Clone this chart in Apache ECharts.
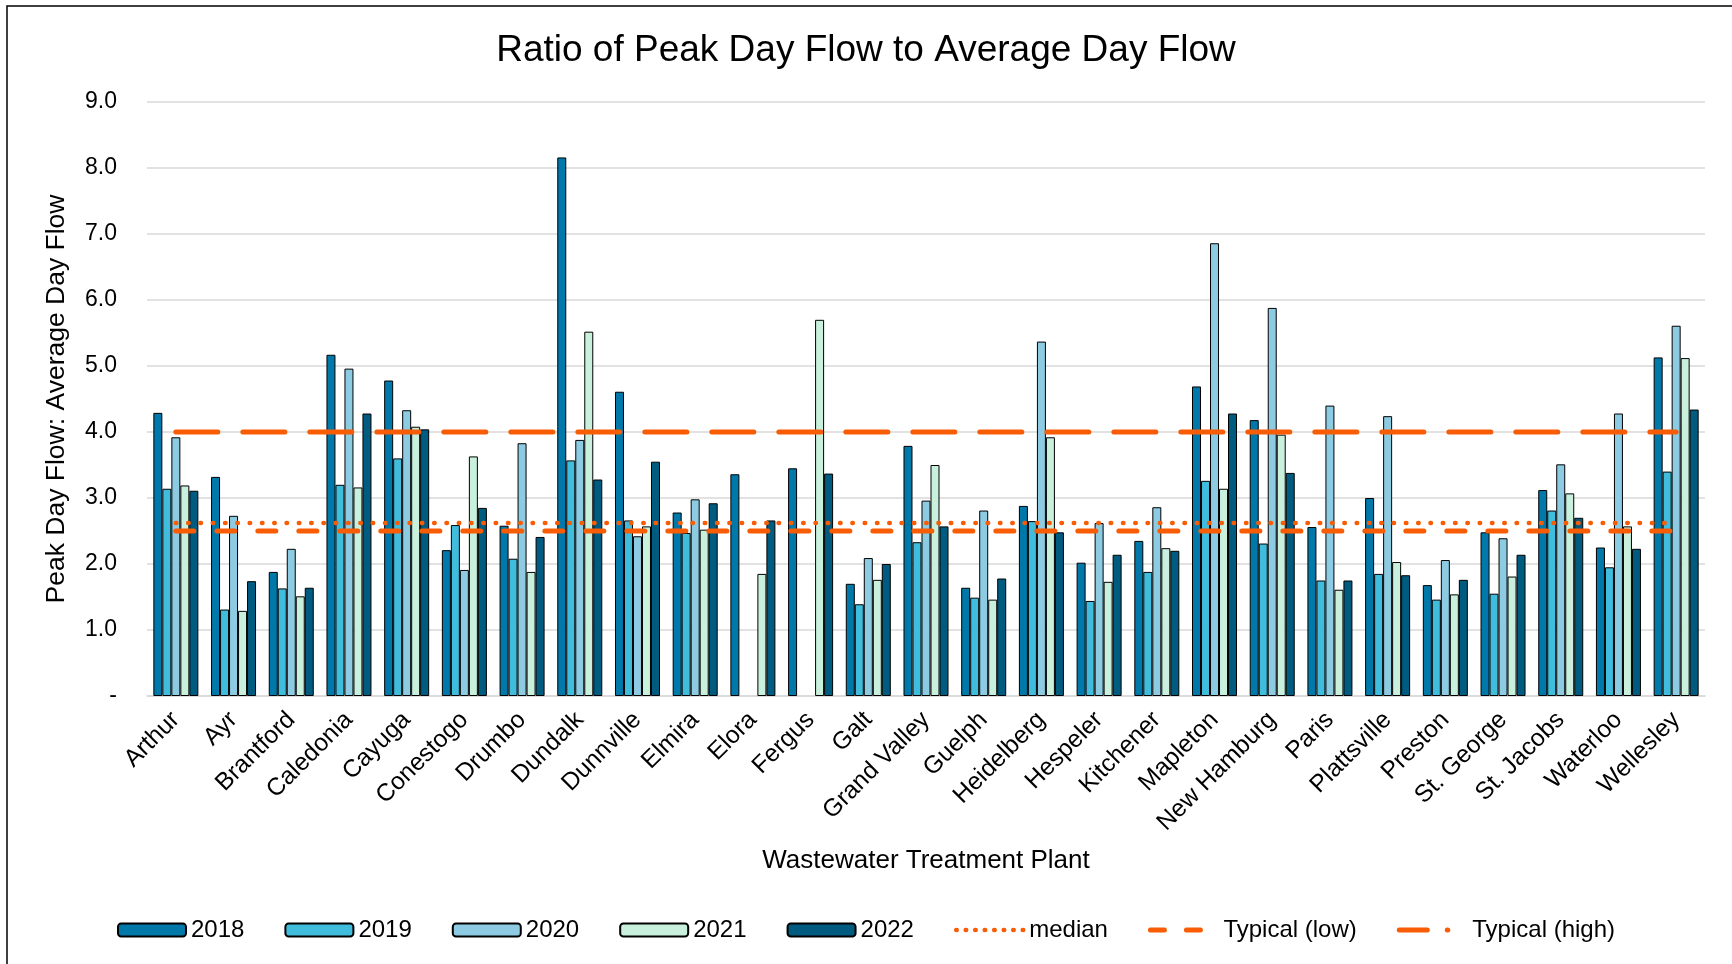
<!DOCTYPE html>
<html>
<head>
<meta charset="utf-8">
<script src="https://cdn.jsdelivr.net/npm/echarts@6/dist/echarts.min.js"></script>
<style>
html, body { margin: 0; padding: 0; background: #fff; }
#chart { width: 1732px; height: 964px; }
</style>
</head>
<body>
<div id="chart"></div>
<script>
var plants = ['Arthur', 'Ayr', 'Brantford', 'Caledonia', 'Cayuga', 'Conestogo', 'Drumbo', 'Dundalk',
	'Dunnville', 'Elmira', 'Elora', 'Fergus', 'Galt', 'Grand Valley', 'Guelph', 'Heidelberg',
	'Hespeler', 'Kitchener', 'Mapleton', 'New Hamburg', 'Paris', 'Plattsville', 'Preston',
	'St. George', 'St. Jacobs', 'Waterloo', 'Wellesley'];

var y2018 = [4.29, 3.32, 1.88, 5.17, 4.78, 2.21, 2.58, 8.16, 4.61, 2.78, 3.36, 3.45, 1.70, 3.79, 1.64, 2.88, 2.02, 2.35, 4.69, 4.18, 2.56, 3.00, 1.68, 2.48, 3.12, 2.25, 5.13];
var y2019 = [3.14, 1.31, 1.63, 3.20, 3.60, 2.59, 2.08, 3.57, 2.66, 2.47, null, null, 1.39, 2.33, 1.49, 2.65, 1.44, 1.88, 3.26, 2.31, 1.75, 1.85, 1.46, 1.55, 2.81, 1.95, 3.40];
var y2020 = [3.92, 2.73, 2.23, 4.96, 4.33, 1.91, 3.83, 3.88, 2.42, 2.98, null, null, 2.09, 2.96, 2.81, 5.37, 2.62, 2.86, 6.86, 5.88, 4.40, 4.24, 2.06, 2.39, 3.51, 4.28, 5.61];
var y2021 = [3.19, 1.29, 1.51, 3.16, 4.08, 3.63, 1.88, 5.52, 2.57, 2.52, 1.85, 5.70, 1.76, 3.50, 1.46, 3.92, 1.73, 2.24, 3.14, 3.96, 1.61, 2.03, 1.54, 1.81, 3.07, 2.57, 5.12];
var y2022 = [3.11, 1.74, 1.64, 4.28, 4.04, 2.85, 2.41, 3.28, 3.55, 2.92, 2.66, 3.37, 2.00, 2.57, 1.78, 2.48, 2.14, 2.20, 4.28, 3.38, 1.75, 1.83, 1.76, 2.14, 2.70, 2.23, 4.34];

var medianValue = 2.62;
var typicalLow = 2.5;
var typicalHigh = 4.0;

var yearColors = ['#0079aa', '#40bcdc', '#8ccbe2', '#c8f0dd', '#005b80'];
var orange = '#f85c05';
var font = '"Liberation Sans", Arial, sans-serif';

var medianDash = [0.5, 11.8];
var lowDash = [18, 23];
var highDash = [42, 25];

function flat(v) {
	return plants.map(function() { return v; });
}

function barSeries(name, data, i) {
	return {
		name: name,
		type: 'bar',
		data: data,
		barGap: 0,
		barCategoryGap: '22%',
		itemStyle: { color: yearColors[i], borderColor: '#000', borderWidth: 1 }
	};
}

function lineSeries(name, value, dash, width) {
	return {
		name: name,
		type: 'line',
		data: flat(value),
		symbol: 'none',
		silent: true,
		z: 5,
		itemStyle: { color: orange },
		lineStyle: { color: orange, width: width, type: dash, cap: 'round' }
	};
}

// legend entry for a reference line: no symbol, thick line like the chart
function lineLegend(name, dash, width) {
	return {
		name: name,
		itemStyle: { opacity: 0 },
		lineStyle: { color: orange, width: width, type: dash, cap: 'round' }
	};
}

var chart = echarts.init(document.getElementById('chart'));

chart.setOption({
	animation: false,
	textStyle: { fontFamily: font },
	title: {
		text: 'Ratio of Peak Day Flow to Average Day Flow',
		left: 'center',
		top: 27,
		textStyle: { fontFamily: font, fontSize: 37, fontWeight: 'normal', color: '#000' }
	},
	graphic: [{
		type: 'rect',
		shape: { x: 7, y: 6, width: 1740, height: 980 },
		style: { fill: null, stroke: '#000', lineWidth: 1.5 },
		silent: true
	}],
	grid: { left: 147, right: 27, top: 102, bottom: 268 },
	legend: {
		bottom: 17,
		left: 'center',
		itemWidth: 68,
		itemHeight: 13,
		itemGap: 40,
		textStyle: { fontFamily: font, fontSize: 24, color: '#000' },
		data: ['2018', '2019', '2020', '2021', '2022',
			lineLegend('median', [0.5, 9], 4.5),
			lineLegend('Typical (low)', [14, 22], 5),
			lineLegend('Typical (high)', [28, 20, 0.5, 20], 5)]
	},
	xAxis: {
		type: 'category',
		data: plants,
		name: 'Wastewater Treatment Plant',
		nameLocation: 'middle',
		nameGap: 152,
		nameTextStyle: { fontFamily: font, fontSize: 26, color: '#000' },
		axisLine: { lineStyle: { color: '#d9d9d9', width: 1.5 } },
		axisTick: { show: false },
		axisLabel: { rotate: 45, fontFamily: font, fontSize: 24.5, color: '#000', margin: 20, interval: 0 }
	},
	yAxis: {
		type: 'value',
		min: 0,
		max: 9,
		interval: 1,
		name: 'Peak Day Flow: Average Day Flow',
		nameLocation: 'middle',
		nameGap: 77,
		nameTextStyle: { fontFamily: font, fontSize: 26.5, color: '#000' },
		axisLine: { show: false },
		axisTick: { show: false },
		axisLabel: {
			fontFamily: font, fontSize: 23, color: '#000', margin: 30,
			formatter: function(v) { return v === 0 ? '-' : v.toFixed(1); }
		},
		splitLine: { lineStyle: { color: '#d9d9d9', width: 1.5 } }
	},
	series: [
		barSeries('2018', y2018, 0),
		barSeries('2019', y2019, 1),
		barSeries('2020', y2020, 2),
		barSeries('2021', y2021, 3),
		barSeries('2022', y2022, 4),
		lineSeries('median', medianValue, medianDash, 4.5),
		lineSeries('Typical (low)', typicalLow, lowDash, 5),
		lineSeries('Typical (high)', typicalHigh, highDash, 5)
	]
});
</script>
</body>
</html>
